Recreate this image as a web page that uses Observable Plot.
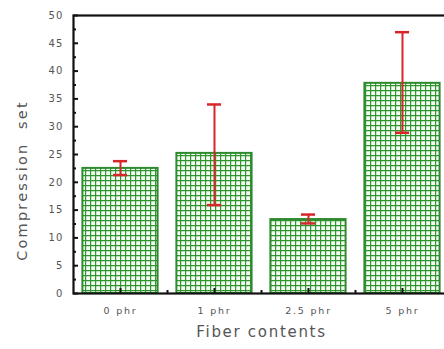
<!DOCTYPE html>
<html><head><meta charset="utf-8">
<script src="https://cdn.jsdelivr.net/npm/d3@7"></script>
<script src="https://cdn.jsdelivr.net/npm/@observablehq/plot@0.6"></script>
<style>
html,body{margin:0;padding:0;background:#fff;overflow:hidden;}
</style></head><body><div id="chart"></div>
<script>
const categories = ["0 phr", "1 phr", "2.5 phr", "5 phr"];
const values = [22.5, 25.2, 13.3, 37.8];
const errLow = [21.3, 15.9, 12.6, 28.9];
const errHigh = [23.8, 34.0, 14.2, 47.0];
const yMajorTicks = [0, 5, 10, 15, 20, 25, 30, 35, 40, 45, 50];
const yMinorTicks = [2.5, 7.5, 12.5, 17.5, 22.5, 27.5, 32.5, 37.5, 42.5, 47.5];
const xLabel = "Fiber contents";
const yLabel = "Compression  set";

const data = categories.map((c, i) => ({c, i, v: values[i], lo: errLow[i], hi: errHigh[i]}));
const boundaries = categories.slice(1).map((c, i) => i + 0.5);
const bw = 0.4, cap = 0.075;
const red = "#d8252a", ink = "#111", txt = "#555";

const plot = Plot.plot({
  width: 444, height: 349,
  marginLeft: 73, marginRight: -5, marginTop: 15, marginBottom: 56,
  style: {fontFamily: "DejaVu Sans, sans-serif", background: "#fff", maxWidth: "none"},
  x: {domain: [-0.5, 3.5], axis: null},
  y: {domain: [0, 50], axis: null},
  marks: [
    Plot.rectY(data, {x1: d => d.i - bw, x2: d => d.i + bw, y1: 0, y2: "v", fill: "url(#gridpat)", stroke: "#2f8a2f", strokeWidth: 2}),
    Plot.ruleX(data, {x: "i", y1: "lo", y2: "hi", stroke: red, strokeWidth: 2}),
    Plot.ruleY(data, {y: "hi", x1: d => d.i - cap, x2: d => d.i + cap, stroke: red, strokeWidth: 2.5}),
    Plot.ruleY(data, {y: "lo", x1: d => d.i - cap, x2: d => d.i + cap, stroke: red, strokeWidth: 2.5}),
    Plot.frame({stroke: ink, strokeWidth: 2.2}),
    Plot.ruleY(yMajorTicks, {y: d => d, insetRight: 371, stroke: ink, strokeWidth: 2}),
    Plot.ruleY(yMinorTicks, {y: d => d, insetRight: 373, stroke: ink, strokeWidth: 2}),
    Plot.ruleX(data, {x: "i", insetTop: 273, stroke: ink, strokeWidth: 2}),
    Plot.ruleX(boundaries, {x: d => d, insetTop: 275, stroke: ink, strokeWidth: 2}),
    Plot.text(yMajorTicks, {y: d => d, frameAnchor: "left", dx: -10, textAnchor: "end", text: d => String(d), fontSize: 10, fill: txt, className: "ytick"}),
    Plot.text(data, {x: "i", frameAnchor: "bottom", dy: 20, textAnchor: "middle", text: "c", fontSize: 9.5, fill: txt, className: "xtick"}),
    Plot.text([xLabel], {frameAnchor: "bottom", dy: 43, textAnchor: "middle", text: d => d, fontSize: 15, fill: txt, className: "xlab"}),
    Plot.text([yLabel], {frameAnchor: "left", dx: -51, dy: 26, rotate: -90, textAnchor: "middle", text: d => d, fontSize: 14.5, fill: txt, className: "ylab"})
  ]
});

const svg = d3.select(plot);
svg.selectAll(".ytick text").style("letter-spacing", "1.2px");
svg.selectAll(".xtick text").style("letter-spacing", "1.8px");
svg.selectAll(".xlab text").style("letter-spacing", "1.7px");
svg.selectAll(".ylab text").style("letter-spacing", "2.2px");
const defs = svg.insert("defs", ":first-child");
const pat = defs.append("pattern").attr("id", "gridpat").attr("patternUnits", "userSpaceOnUse")
  .attr("width", 5).attr("height", 5);
pat.append("rect").attr("width", 5).attr("height", 5).attr("fill", "#f5fcf3");
pat.append("path").attr("d", "M0,0.6H5M0.6,0V5").attr("stroke", "#2f952f").attr("stroke-width", 1.2).attr("fill", "none");
document.getElementById("chart").append(plot);
</script>
</body></html>
